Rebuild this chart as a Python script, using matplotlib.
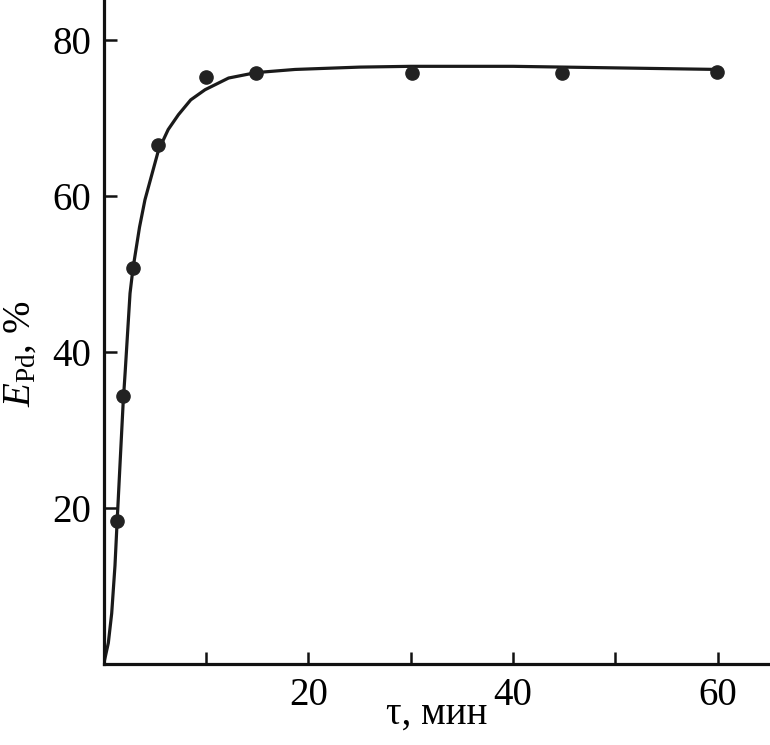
import matplotlib
matplotlib.use("Agg")
import matplotlib.pyplot as plt

plt.rcParams['font.family'] = ['Liberation Serif', 'DejaVu Serif']
plt.rcParams['mathtext.fontset'] = 'custom'
plt.rcParams['mathtext.rm'] = 'Liberation Serif'
plt.rcParams['mathtext.it'] = 'Liberation Serif:italic'

# experimental points
t_points = [1.3, 1.9, 2.9, 5.3, 10.0, 14.9, 30.1, 44.8, 59.9]
e_points = [18.3, 34.3, 50.7, 66.5, 75.2, 75.8, 75.8, 75.8, 75.9]

# fitted curve
t_curve = [0, 0.45, 0.78, 1.1, 1.3, 1.6, 1.9, 2.1, 2.57, 2.86, 3.5, 4.03,
           5.34, 6.3, 7.3, 8.5, 9.9, 12.2, 14.9, 18.7, 25, 30, 40, 50, 60]
e_curve = [0, 2.7, 6.5, 12.6, 18.0, 25.8, 33.5, 37.5, 47.5, 50.7, 56.0, 59.5,
           65.8, 68.5, 70.4, 72.3, 73.6, 75.1, 75.8, 76.2, 76.5, 76.6, 76.6,
           76.4, 76.2]

x_ticks = [10, 20, 30, 40, 50, 60]
x_ticklabels = ['', '20', '', '40', '', '60']
y_ticks = [20, 40, 60, 80]
y_ticklabels = ['20', '40', '60', '80']

fig = plt.figure(figsize=(7.7, 7.45), dpi=100)
ax = fig.add_axes([0.1347, 0.1087, 0.8653, 0.8913])

ax.plot(t_curve, e_curve, color='#1a1a1a', lw=2.3, solid_capstyle='round',
        solid_joinstyle='round', zorder=2)
ax.plot(t_points, e_points, 'o', color='#222222', ms=9.5, zorder=3)

ax.set_xlim(0, 65.1)
ax.set_ylim(0, 85.1)

ax.spines['top'].set_visible(False)
ax.spines['right'].set_visible(False)
for s in ('left', 'bottom'):
    ax.spines[s].set_linewidth(2.3)
    ax.spines[s].set_color('#111111')

ax.set_xticks(x_ticks)
ax.set_xticklabels(x_ticklabels)
ax.set_yticks(y_ticks)
ax.set_yticklabels(y_ticklabels)
ax.tick_params(direction='in', length=9, width=1.8, labelsize=28, pad=9,
               color='#111111')

ax.set_xlabel('τ, мин', fontsize=28, labelpad=-13)
ax.set_ylabel(r'$\mathit{E}_{\mathrm{Pd}}$, %', fontsize=28, labelpad=10)
ax.yaxis.label.set_y(0.467)

fig.savefig('out.png', dpi=100)
